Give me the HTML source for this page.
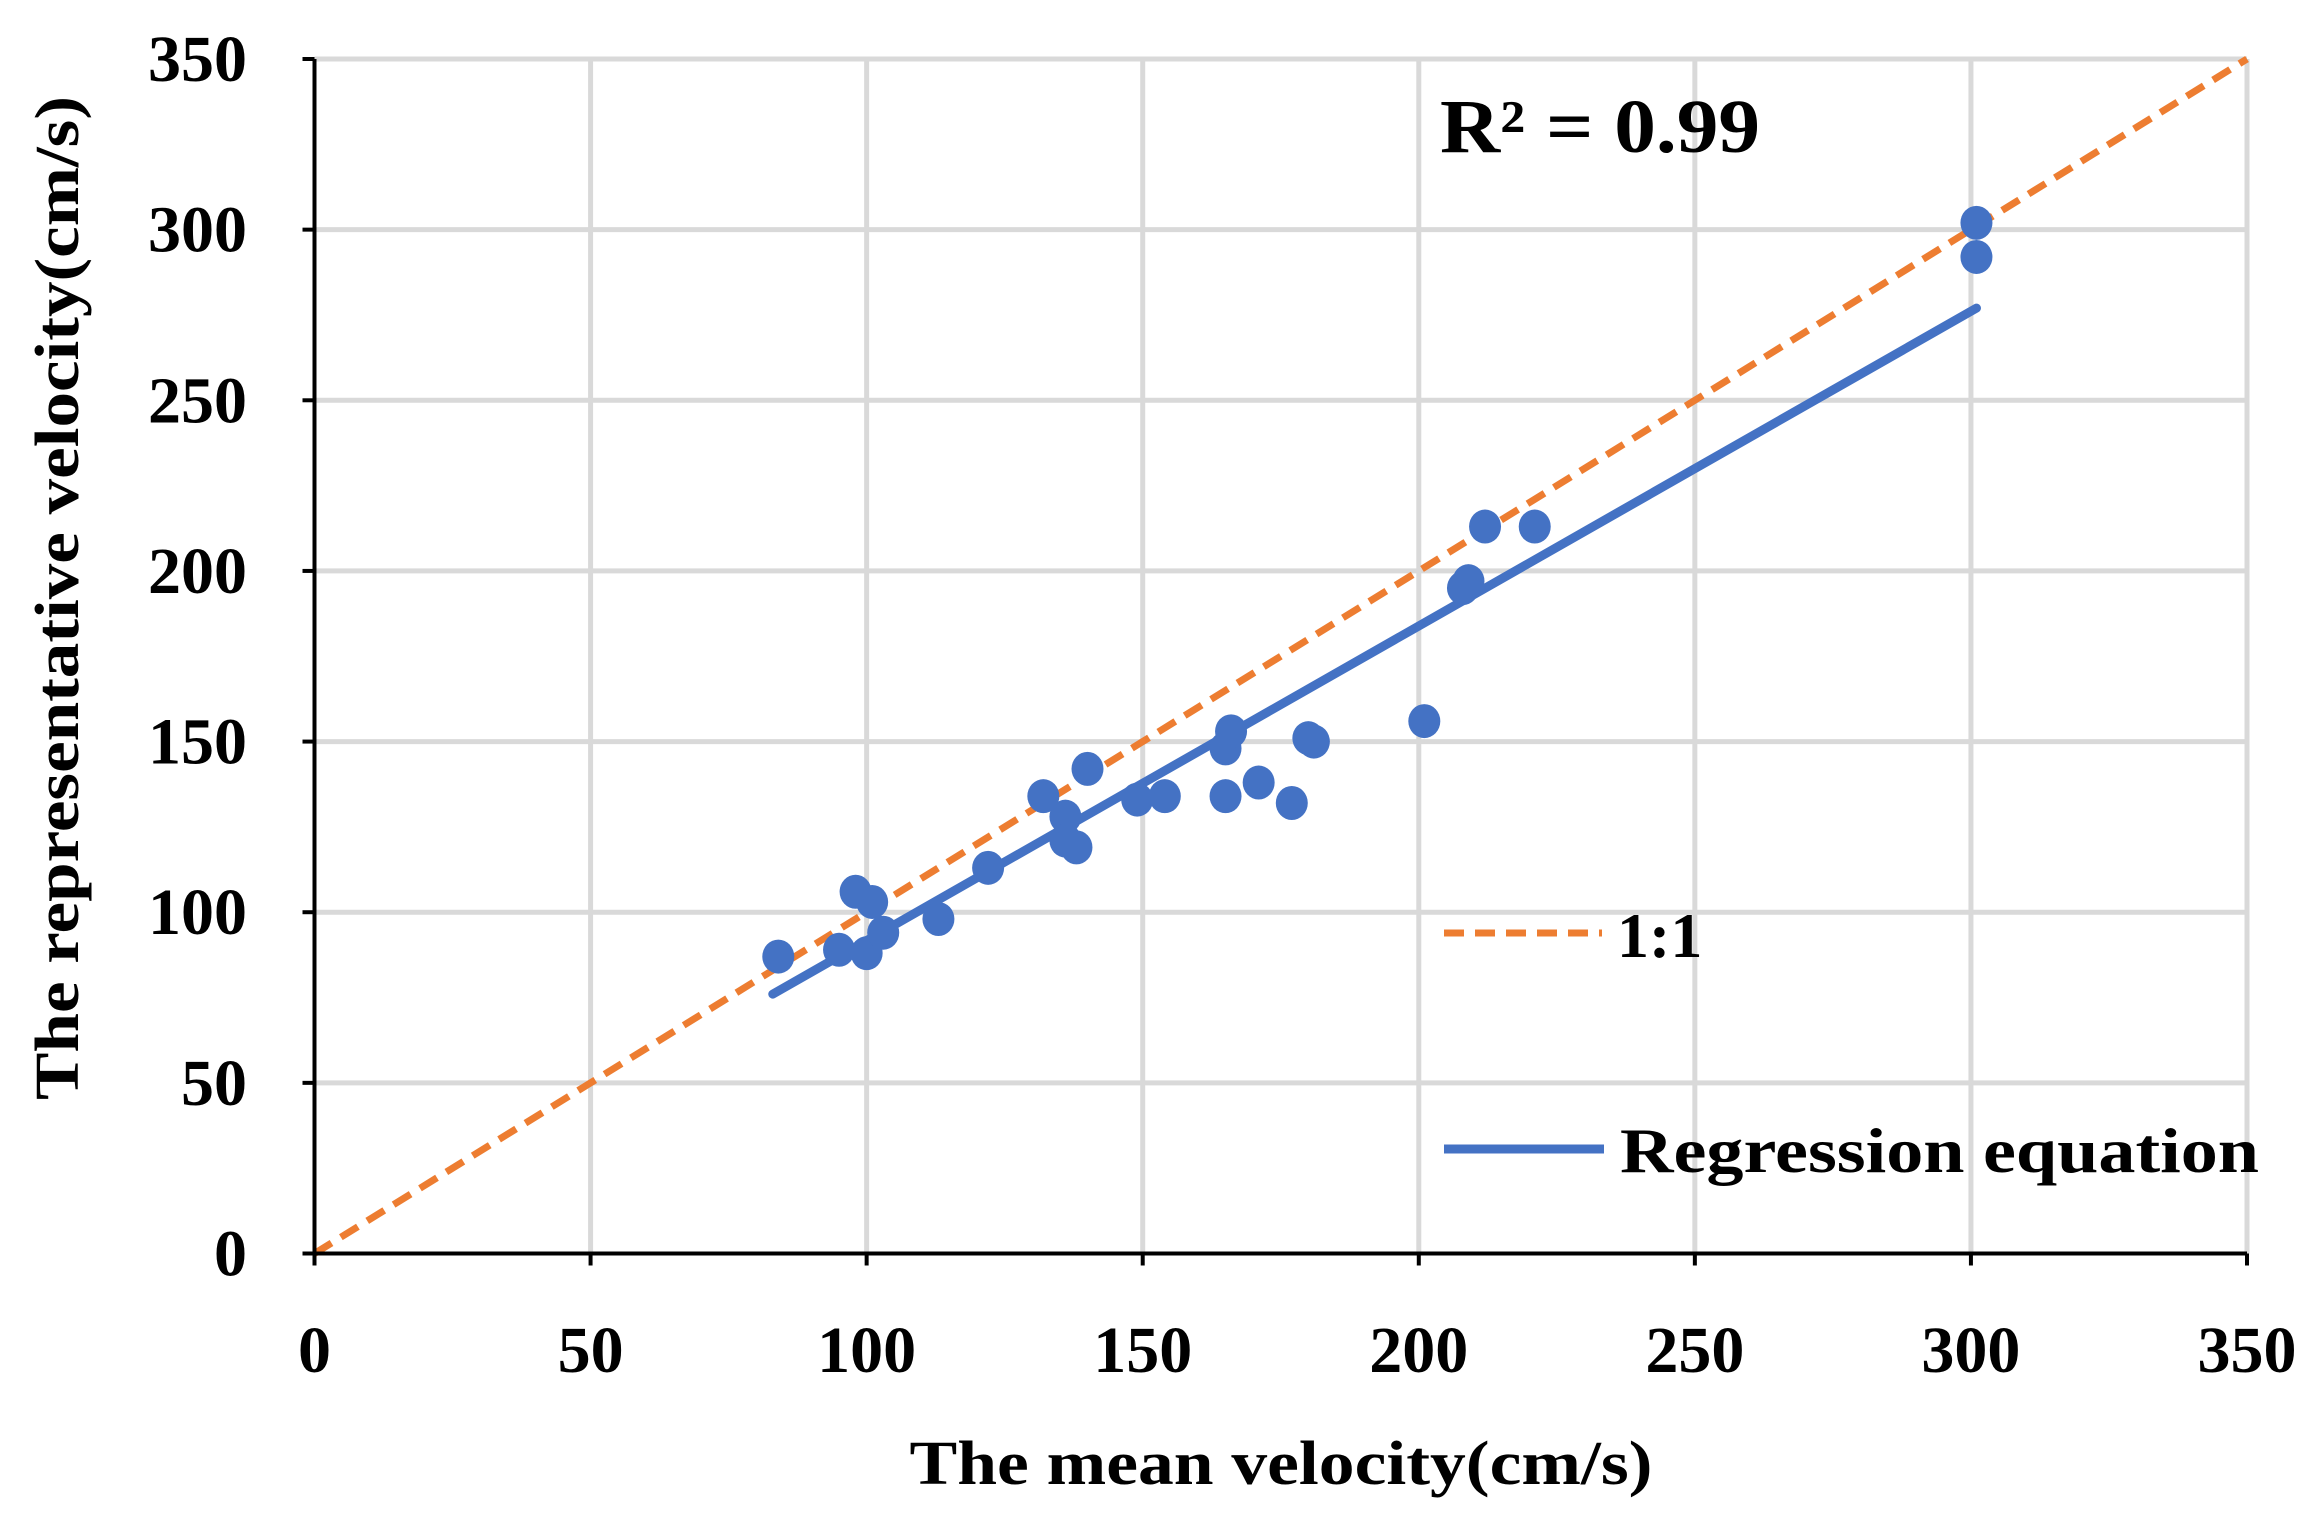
<!DOCTYPE html>
<html><head><meta charset="utf-8"><style>
html,body{margin:0;padding:0;background:#fff}
svg{display:block;font-family:"Liberation Serif",serif;font-weight:bold}
</style></head><body>
<svg id="chart" width="2315" height="1518" viewBox="0 0 2315 1518">
<g id="grid"></g>
<g id="series"></g>
<g id="axes"></g>
<text x="1281" y="1484" font-size="62" text-anchor="middle" textLength="743" lengthAdjust="spacingAndGlyphs">The mean velocity(cm/s)</text>
<text transform="translate(78,598) rotate(-90)" font-size="62" text-anchor="middle" textLength="1004" lengthAdjust="spacingAndGlyphs">The representative velocity(cm/s)</text>
<text x="1440" y="152" font-size="76" textLength="320" lengthAdjust="spacingAndGlyphs">R² = 0.99</text>
<g>
<line x1="1444" y1="933" x2="1602" y2="933" stroke="#ED7D31" stroke-width="7" stroke-dasharray="20,11"/>
<text x="1617" y="957" font-size="64">1:1</text>
<line x1="1444" y1="1149" x2="1604" y2="1149" stroke="#4472C4" stroke-width="9"/>
<text x="1620" y="1172" font-size="64" textLength="639" lengthAdjust="spacingAndGlyphs">Regression  equation</text>
</g>
</svg>
<script>
const xTicks=[0,50,100,150,200,250,300,350];
const yTicks=[0,50,100,150,200,250,300,350];
const meanVel=[84,95,98,100,101,103,113,122,132,136,136,138,140,149,154,165,165,166,171,177,180,181,201,208,209,212,221,301,301];
const repVel=[87,89,106,88,103,94,98,113,134,128,121,119,142,133,134,134,148,153,138,132,151,150,156,195,197,213,213,302,292];
const regX=[83,301];
const regY=[76,277];
const L=314.5,R=2247,T=59,B=1253.5;
const sx=v=>L+(R-L)*v/350, sy=v=>B-(B-T)*v/350;
const NS="http://www.w3.org/2000/svg";
function mk(tag,attrs,parent){const e=document.createElementNS(NS,tag);for(const k in attrs)e.setAttribute(k,attrs[k]);document.getElementById(parent).appendChild(e);return e;}
xTicks.forEach(v=>{
 if(v>0){const g=mk('line',{x1:sx(v),x2:sx(v),y1:T,y2:B,stroke:'#d9d9d9','stroke-width':5},'grid');
 
 }
 const t=mk('line',{x1:sx(v),x2:sx(v),y1:B,y2:B+12,stroke:'#000','stroke-width':4},'axes');
 
 
 const l=mk('text',{x:sx(v),y:1372,'font-size':66,'text-anchor':'middle'},'axes');l.textContent=v;
 
 
});
yTicks.forEach(v=>{
 if(v>0){const g=mk('line',{x1:L,x2:R,y1:sy(v),y2:sy(v),stroke:'#d9d9d9','stroke-width':5},'grid');
 
 }
 const t=mk('line',{x1:L-12,x2:L,y1:sy(v),y2:sy(v),stroke:'#000','stroke-width':4},'axes');
 
 
 const l=mk('text',{x:247,y:sy(v)+22,'font-size':66,'text-anchor':'end'},'axes');l.textContent=v;
 
 
});
const ax=mk('line',{x1:L,x2:L,y1:T,y2:B+2,stroke:'#000','stroke-width':4},'axes');


const bx=mk('line',{x1:L-2,x2:R,y1:B,y2:B,stroke:'#000','stroke-width':4},'axes');


const one=mk('line',{x1:sx(0),y1:sy(0),x2:sx(350),y2:sy(350),stroke:'#ED7D31','stroke-width':7,'stroke-dasharray':'20,11'},'series');


const reg=mk('line',{x1:sx(regX[0]),y1:sy(regY[0]),x2:sx(regX[1]),y2:sy(regY[1]),stroke:'#4472C4','stroke-width':9,'stroke-linecap':'round'},'series');


meanVel.forEach((x,i)=>{
 const c=mk('ellipse',{cx:sx(x),cy:sy(repVel[i]),rx:16,ry:17,fill:'#4472C4'},'series');
 
 
});
</script>
</body></html>
